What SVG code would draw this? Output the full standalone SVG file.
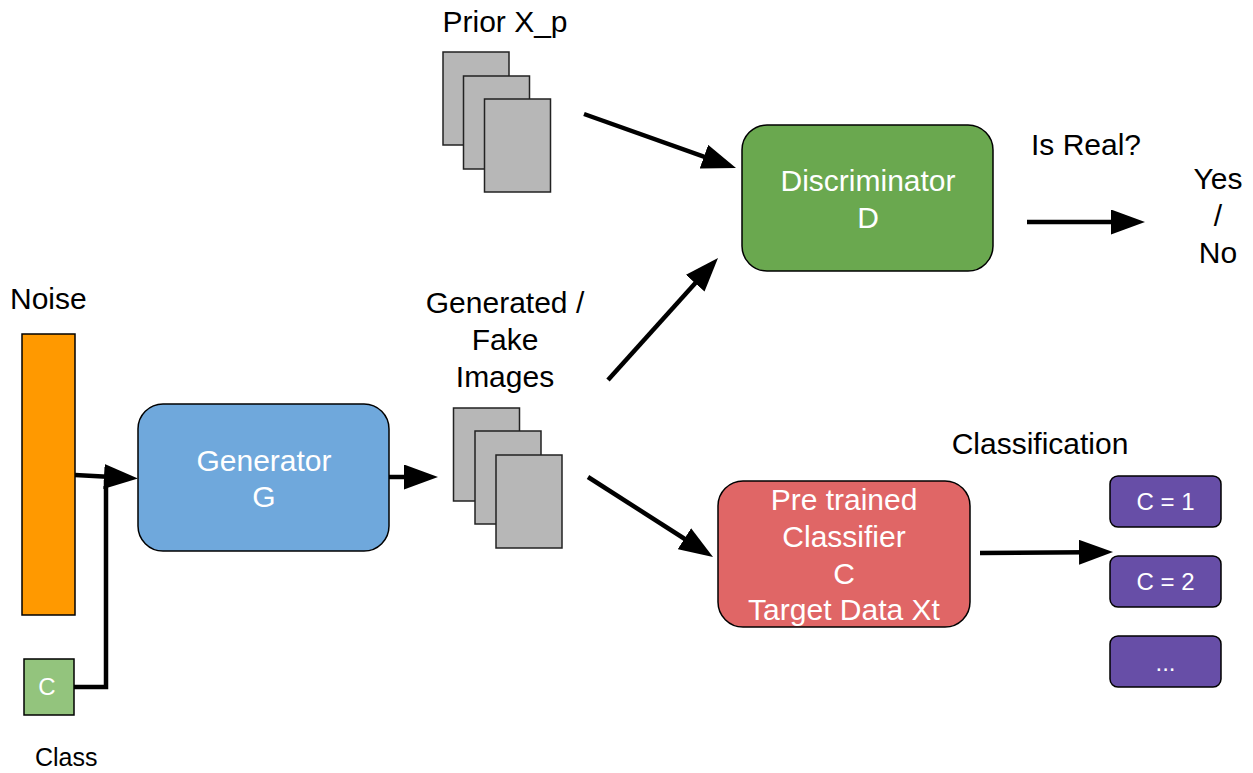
<svg xmlns="http://www.w3.org/2000/svg" width="1253" height="773" viewBox="0 0 1253 773">
<style>
text{font-family:"Liberation Sans",Arial,sans-serif;}
.lbl{font-size:30px;fill:#000;}
.wt{font-size:30px;fill:#fff;text-anchor:middle;}
.mid{text-anchor:middle;}
.box{stroke:#000;stroke-width:1.5;}
.img{fill:#b7b7b7;stroke:#222;stroke-width:1.5;}
.conn{fill:none;stroke:#000;stroke-width:4.5;}
.small{font-size:24px;fill:#fff;text-anchor:middle;}
</style>
<defs>
<marker id="arr" markerUnits="userSpaceOnUse" viewBox="0 0 34 25" refX="8" refY="12.5" markerWidth="34" markerHeight="25" orient="auto">
<path d="M0,0 L34,12.5 L0,25 z" fill="#000"/>
</marker>
</defs>
<rect width="1253" height="773" fill="#fff"/>

<g id="connectors">
<path class="conn" d="M75,475 L112,477" marker-end="url(#arr)"/>
<path class="conn" d="M74,687 L106,687 L106,480"/>
<path class="conn" d="M389,477 L412,477" marker-end="url(#arr)"/>
<path class="conn" d="M608,380 L700.6,277.3" marker-end="url(#arr)"/>
<path class="conn" d="M584,114 L711.5,159.3" marker-end="url(#arr)"/>
<path class="conn" d="M1027,222 L1119,222" marker-end="url(#arr)"/>
<path class="conn" d="M588,477 L691.1,543" marker-end="url(#arr)"/>
<path class="conn" d="M980,553 L1087,552.2" marker-end="url(#arr)"/>
</g>

<g id="noise">
<rect class="box" x="22" y="334" width="53" height="281" fill="#ff9900"/>
<text class="lbl" x="10" y="309">Noise</text>
</g>

<g id="class">
<rect class="box" x="24" y="659" width="50" height="56" fill="#93c47d"/>
<text x="47" y="695" font-size="24" fill="#fff" text-anchor="middle">C</text>
<text x="35" y="766" font-size="25" fill="#000">Class</text>
</g>

<g id="generator">
<rect class="box" x="138" y="404" width="251" height="147" rx="25" fill="#6fa8dc"/>
<text class="wt" x="264" y="471">Generator</text>
<text class="wt" x="264" y="507">G</text>
</g>

<g id="prior">
<text class="lbl mid" x="505" y="32">Prior X_p</text>
<rect class="img" x="443" y="52" width="66" height="93"/>
<rect class="img" x="463.5" y="76" width="66" height="93"/>
<rect class="img" x="484.5" y="99" width="66" height="93"/>
</g>

<g id="generated">
<text class="lbl mid" x="505" y="313">Generated /</text>
<text class="lbl mid" x="505" y="350">Fake</text>
<text class="lbl mid" x="505" y="387">Images</text>
<rect class="img" x="453.5" y="408" width="66" height="93"/>
<rect class="img" x="475" y="431" width="66" height="93"/>
<rect class="img" x="496" y="455" width="66" height="93"/>
</g>

<g id="discriminator">
<rect class="box" x="742" y="125" width="251" height="146" rx="25" fill="#6aa84f"/>
<text class="wt" x="868" y="191">Discriminator</text>
<text class="wt" x="868" y="228">D</text>
</g>

<g id="isreal">
<text class="lbl mid" x="1086" y="155">Is Real?</text>
</g>

<g id="yesno">
<text class="lbl mid" x="1218" y="189">Yes</text>
<text class="lbl mid" x="1218" y="226">/</text>
<text class="lbl mid" x="1218" y="263">No</text>
</g>

<g id="classifier">
<rect class="box" x="718" y="481" width="252" height="146" rx="25" fill="#e06666"/>
<text class="wt" x="844" y="510">Pre trained</text>
<text class="wt" x="844" y="547">Classifier</text>
<text class="wt" x="844" y="584">C</text>
<text class="wt" x="844" y="620">Target Data Xt</text>
</g>

<g id="classification">
<text class="lbl mid" x="1040" y="454">Classification</text>
</g>

<g id="c1">
<rect class="box" x="1110" y="476" width="111" height="51" rx="8" fill="#674ea7"/>
<text class="small" x="1165.5" y="510">C = 1</text>
</g>
<g id="c2">
<rect class="box" x="1110" y="556" width="111" height="51" rx="8" fill="#674ea7"/>
<text class="small" x="1165.5" y="590">C = 2</text>
</g>
<g id="c3">
<rect class="box" x="1110" y="636" width="111" height="51" rx="8" fill="#674ea7"/>
<text class="small" x="1165.5" y="671">...</text>
</g>
</svg>
